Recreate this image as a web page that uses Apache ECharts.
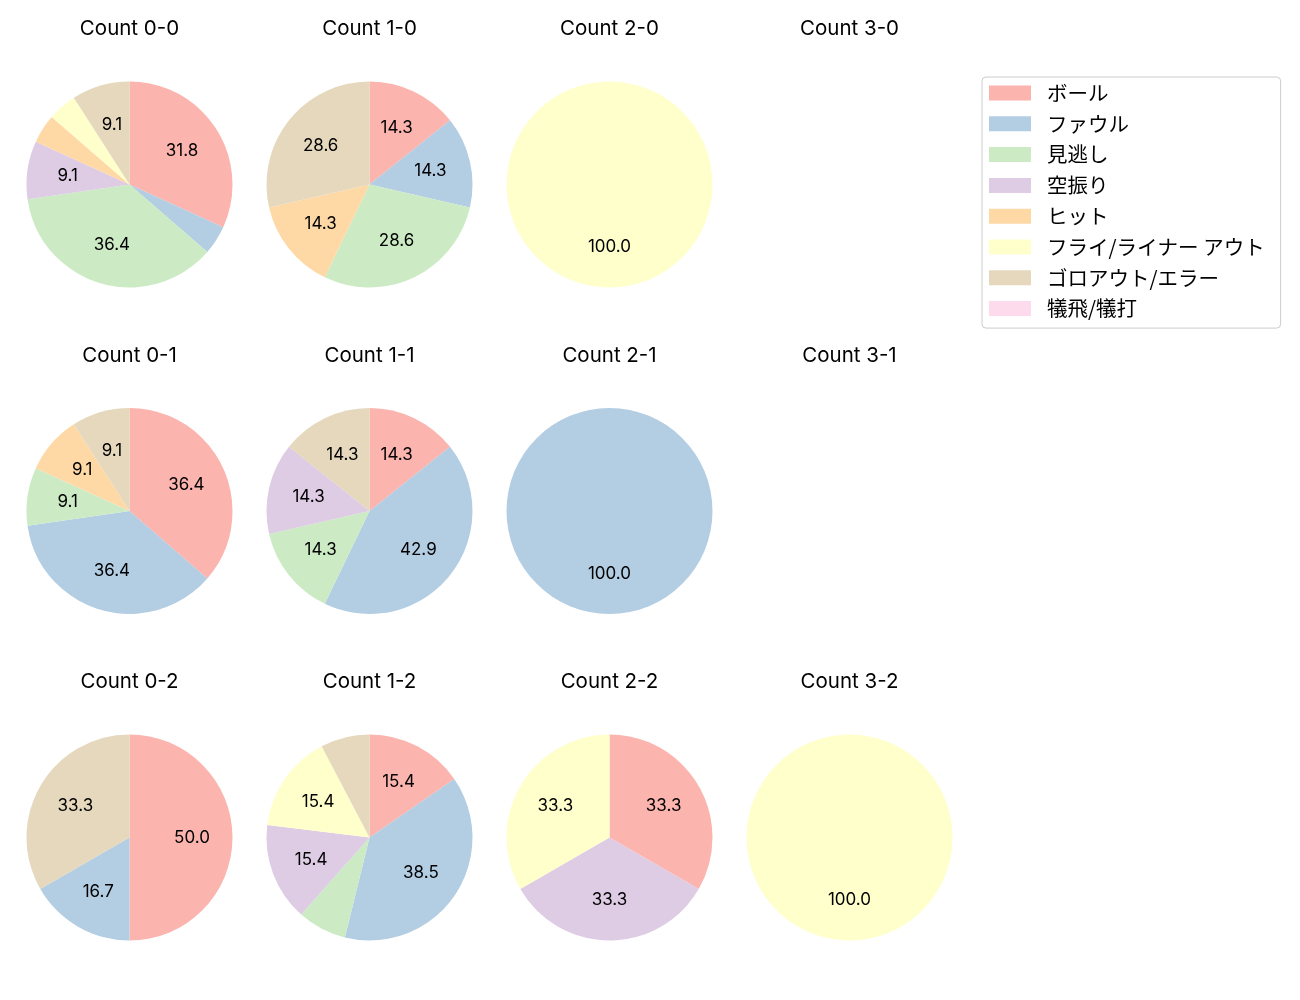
<!DOCTYPE html>
<html>
<head>
<meta charset="utf-8">
<script src="https://cdn.jsdelivr.net/npm/echarts@6/dist/echarts.min.js"></script>
<style>
html,body{margin:0;padding:0;background:#fff;}
#chart{width:1300px;height:1000px;}
</style>
</head>
<body>
<div id="chart"></div>
<script>
const categories = ['ボール','ファウル','見逃し','空振り','ヒット','フライ/ライナー アウト','ゴロアウト/エラー','犠飛/犠打'];
const colors = ['#fbb4ae','#b3cde3','#ccebc5','#decbe4','#fed9a6','#ffffcc','#e5d8bd','#fddaec'];
const panelTitles = ['Count 0-0','Count 1-0','Count 2-0','Count 3-0',
                     'Count 0-1','Count 1-1','Count 2-1','Count 3-1',
                     'Count 0-2','Count 1-2','Count 2-2','Count 3-2'];
const values00 = [7,1,8,2,1,1,2,0];
const values10 = [1,1,2,0,1,0,2,0];
const values20 = [0,0,0,0,0,1,0,0];
const values30 = [0,0,0,0,0,0,0,0];
const values01 = [4,4,1,0,1,0,1,0];
const values11 = [1,3,1,1,0,0,1,0];
const values21 = [0,1,0,0,0,0,0,0];
const values31 = [0,0,0,0,0,0,0,0];
const values02 = [3,1,0,0,0,0,2,0];
const values12 = [2,5,1,2,0,2,1,0];
const values22 = [1,0,0,1,0,1,0,0];
const values32 = [0,0,0,0,0,1,0,0];
const panelValues = [values00,values10,values20,values30,
                     values01,values11,values21,values31,
                     values02,values12,values22,values32];

const LATIN = 'Inter, "Noto Sans CJK JP", sans-serif';
const CJK = '"Noto Sans CJK JP", "Noto Sans", sans-serif';
const colX = [129.5, 369.5, 609.5, 849.5];
const rowY = [184.5, 511, 837.5];
const titleTop = [19, 345.5, 672];
const R = 103;

const titles = [];
const mainSeries = [];
const labelSeries = [];
panelValues.forEach((vals, i) => {
  const c = i % 4, r = Math.floor(i / 4);
  titles.push({
    text: panelTitles[i], left: colX[c], top: titleTop[r], textAlign: 'center', padding: 0,
    textStyle: {fontFamily: LATIN, fontSize: 20.5, fontWeight: 'normal', color: '#000'}
  });
  const total = vals.reduce((a, b) => a + b, 0);
  if (total === 0) return;
  const data = categories.map((name, k) => ({name, value: vals[k], itemStyle: {color: colors[k]}}));
  mainSeries.push({
    type: 'pie', center: [colX[c], rowY[r]], radius: [0, R], startAngle: 90, clockwise: true,
    silent: true, animation: false, label: {show: false}, labelLine: {show: false},
    itemStyle: {borderWidth: 0}, emphasis: {disabled: true}, data: data
  });
  labelSeries.push({
    type: 'pie', center: [colX[c], rowY[r]], radius: [R * 0.155, R], startAngle: 90, clockwise: true,
    silent: true, animation: false, labelLine: {show: false}, emphasis: {disabled: true},
    itemStyle: {color: 'rgba(0,0,0,0)', borderWidth: 0},
    label: {
      show: true, position: 'inside', fontFamily: LATIN, fontSize: 17, color: '#000',
      formatter: p => { const pct = p.value / total * 100; return pct < 8 ? '' : pct.toFixed(1); }
    },
    data: categories.map((name, k) => ({name, value: vals[k]}))
  });
});

const chart = echarts.init(document.getElementById('chart'), null, {renderer: 'canvas'});
chart.setOption({
  animation: false,
  backgroundColor: '#fff',
  title: titles,
  legend: {
    orient: 'vertical', left: 982, top: 77,
    padding: [5.5, 16, 9, 7],
    itemWidth: 42, itemHeight: 15, itemGap: 9.8,
    icon: 'rect',
    borderColor: '#cccccc', borderWidth: 1, borderRadius: 4,
    selectedMode: false,
    textStyle: {fontFamily: CJK, fontSize: 20.5, color: '#000', lineHeight: 21, padding: [0, 0, 0, 11]},
    data: categories.map((name, k) => ({name, itemStyle: {color: colors[k]}}))
  },
  series: mainSeries.concat(labelSeries)
});
</script>
</body>
</html>
